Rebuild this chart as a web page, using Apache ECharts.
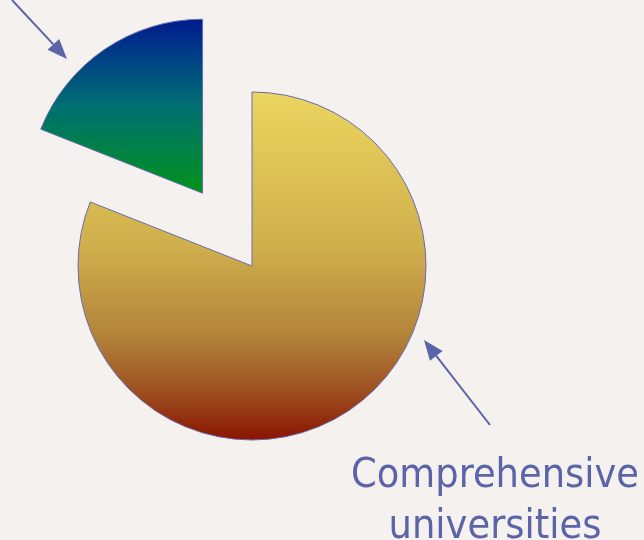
<!DOCTYPE html>
<html>
<head>
<meta charset="utf-8">
<script src="https://cdn.jsdelivr.net/npm/echarts@6/dist/echarts.min.js"></script>
<style>
  html, body { margin: 0; padding: 0; background: #f4f1ee; }
  #pie { width: 644px; height: 540px; }
</style>
</head>
<body>
<div id="pie"></div>
<script>
// shares (percent)
var categories = ['Comprehensive universities', 'Other institutions'];
var shares = [81, 19];
var pulledOut = [false, true];

var bigStops = [
    [0, '#ebd65f'], [0.45, '#cfae4c'], [0.7, '#b2843a'], [0.86, '#9d4f20'], [1, '#8a1300']
];
var smallStops = [
    [0, '#001a8e'], [0.25, '#004585'], [0.5, '#006f72'], [1, '#00931a']
];

function grad(stops) {
    return new echarts.graphic.LinearGradient(0, 0, 0, 1, stops.map(function (s) {
        return { offset: s[0], color: s[1] };
    }));
}

// arrow: shaft + head, tip at (x2, y2)
function arrow(x1, y1, x2, y2) {
    var ang = Math.atan2(y2 - y1, x2 - x1);
    var len = 20, half = 8;
    var bx = x2 - len * Math.cos(ang), by = y2 - len * Math.sin(ang);
    var px = -Math.sin(ang) * half, py = Math.cos(ang) * half;
    return [
        { type: 'line', shape: { x1: x1, y1: y1, x2: bx, y2: by },
          style: { stroke: '#5b64a8', lineWidth: 2 } },
        { type: 'polygon', shape: { points: [[x2, y2], [bx + px, by + py], [bx - px, by - py]] },
          style: { fill: '#5b64a8' } }
    ];
}

var chart = echarts.init(document.getElementById('pie'));
var gfx = [].concat(arrow(490, 425, 424, 340), arrow(12, 0, 67, 59));
gfx.push({
    type: 'text',
    style: {
        x: 495, y: 451, text: 'Comprehensive\nuniversities',
        align: 'center', verticalAlign: 'top',
        font: '41px "DejaVu Sans Condensed", "DejaVu Sans", sans-serif',
        lineHeight: 51, fill: '#5b64a8'
    }
});

var option = {
    backgroundColor: '#f4f1ee',
    animation: false,
    series: [{
        type: 'pie',
        center: [252, 266],
        radius: 174,
        startAngle: 90,
        clockwise: true,
        selectedMode: 'single',
        selectedOffset: 88,
        label: { show: false },
        labelLine: { show: false },
        emphasis: { disabled: true },
        itemStyle: { borderColor: '#6a6cae', borderWidth: 1 },
        data: categories.map(function (c, i) {
            return {
                name: c,
                value: shares[i],
                selected: pulledOut[i],
                itemStyle: { color: grad(i === 0 ? bigStops : smallStops) }
            };
        })
    }],
    graphic: gfx
};
chart.setOption(option);
</script>
</body>
</html>
